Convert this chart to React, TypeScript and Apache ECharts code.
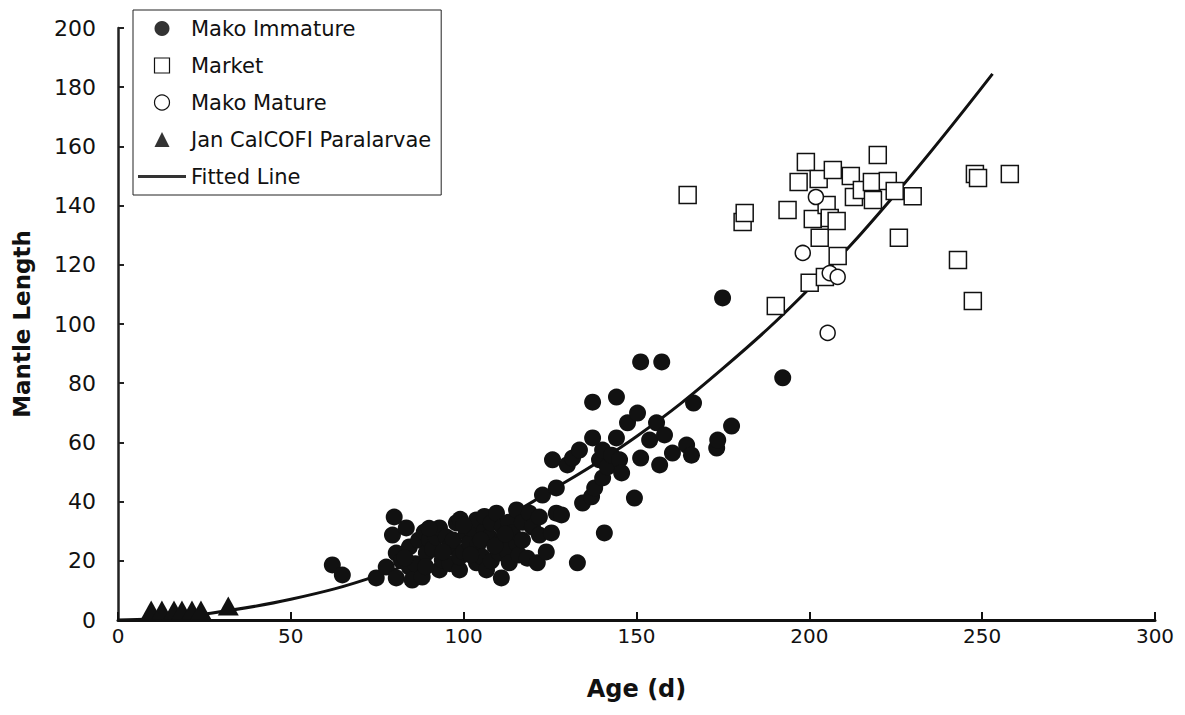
import React, { useEffect, useRef } from "react";
import * as echarts from "echarts";

// Age (d), Mantle Length
const makoImmature: number[][] = [
  [62.0, 18.6], [64.9, 15.2],
  [74.7, 14.2], [77.6, 17.9], [79.9, 34.8], [79.4, 28.7], [80.5, 22.6], [80.5, 14.2],
  [82.0, 20.0], [83.4, 31.1], [84.3, 17.9], [84.3, 24.7], [85.1, 13.5], [86.0, 19.0],
  [87.0, 27.0], [88.0, 14.5], [88.6, 29.7], [89.2, 22.6], [90.1, 27.0], [91.0, 24.0],
  [92.0, 28.0], [93.0, 31.1], [93.0, 16.9], [93.8, 20.3], [95.0, 28.0], [95.9, 24.7],
  [96.0, 19.0], [97.0, 27.0], [97.9, 32.8], [98.8, 16.9], [98.8, 21.3], [99.0, 34.0],
  [100.0, 23.0], [100.8, 29.4], [101.7, 26.0], [102.0, 31.0], [103.7, 33.8], [103.7, 19.3],
  [104.0, 25.0], [105.4, 21.3], [106.0, 30.0], [106.0, 35.0], [106.6, 16.9], [107.4, 28.0],
  [108.0, 32.8], [108.0, 20.0], [109.5, 36.1], [110.3, 22.6], [110.9, 14.2], [111.0, 27.0],
  [111.2, 31.4], [112.4, 23.6], [113.0, 33.0], [113.2, 19.3], [114.1, 29.4], [115.3, 26.0],
  [115.3, 37.2], [116.0, 22.0], [117.0, 33.0], [118.4, 20.9], [119.0, 36.1], [119.9, 31.4],
  [121.3, 19.3], [121.9, 28.7], [121.9, 34.8], [122.8, 42.2], [123.9, 23.0], [125.4, 29.4],
  [125.7, 54.1], [126.8, 44.6], [126.8, 36.1], [128.3, 35.5], [130.0, 52.4], [131.5, 54.7],
  [132.9, 19.3], [133.5, 57.4], [134.4, 39.5], [137.0, 41.6], [137.3, 73.6], [137.3, 61.5],
  [137.9, 44.6], [139.3, 54.1], [140.2, 57.4], [140.2, 48.0], [140.7, 29.4], [141.6, 51.7],
  [142.8, 55.7], [144.2, 75.3], [144.2, 61.5], [145.1, 54.1], [145.7, 49.7], [147.4, 66.6],
  [149.4, 41.2], [150.3, 69.9], [151.2, 87.2], [151.2, 54.7], [153.8, 60.8], [155.8, 66.6],
  [156.7, 52.4], [157.3, 87.2], [158.1, 62.5], [160.4, 56.4], [164.5, 59.1], [165.9, 55.7],
  [166.5, 73.3], [173.2, 58.1], [173.5, 60.8], [174.9, 108.8], [177.5, 65.5], [192.3, 81.8],
  [83.0, 21.0], [89.0, 18.0], [94.0, 23.0], [102.0, 22.0], [105.0, 27.0], [109.0, 25.0],
  [112.0, 29.0], [117.0, 27.0], [100.0, 32.0], [90.0, 31.0],
];

const market: number[][] = [
  [164.8, 143.6], [180.7, 134.5], [181.3, 137.5], [190.3, 106.1], [193.7, 138.5], [196.9, 148.0],
  [199.0, 154.7], [200.1, 113.9], [201.0, 135.5], [202.7, 149.0], [203.0, 129.1], [204.5, 115.9],
  [205.0, 140.2], [205.9, 135.8], [206.8, 152.0], [207.9, 134.8], [208.2, 123.0], [212.0, 150.0],
  [212.9, 142.9], [215.2, 145.3], [218.1, 148.0], [218.4, 141.9], [219.8, 157.1], [222.7, 148.3],
  [224.7, 144.9], [225.9, 129.1], [229.9, 143.2], [243.0, 121.6], [247.3, 107.8], [247.9, 150.7],
  [248.8, 149.3], [258.0, 150.7],
];

const makoMature: number[][] = [
  [198.1, 124.0], [201.9, 142.9], [205.3, 97.0], [205.9, 117.2], [208.2, 115.9],
];

const paralarvae: number[][] = [
  [9.6, 3.4], [12.7, 3.4], [16.2, 3.4], [18.5, 3.4], [21.4, 3.4], [24.0, 3.4], [31.9, 4.7],
];

const fittedLine: number[][] = [
  [0, 0], [10, 0.4], [25, 2], [50, 7], [75, 15], [100, 27], [125, 43.5],
  [150, 62], [175, 85], [200, 112], [225, 144], [253, 184.5],
];

const xTicks = [0, 50, 100, 150, 200, 250, 300];
const yTicks = [0, 20, 40, 60, 80, 100, 120, 140, 160, 180, 200];
const legendNames = ["Mako Immature", "Market", "Mako Mature", "Jan CalCOFI Paralarvae", "Fitted Line"];

const FONT = "DejaVu Sans";
const INK = "#111";

export default function App() {
  const ref = useRef<HTMLDivElement>(null);
  useEffect(() => {
    if (!ref.current) return;
    const chart = echarts.init(ref.current, undefined, { renderer: "svg" });
    chart.setOption({
      animation: false,
      backgroundColor: "#ffffff",
      grid: { left: 118, right: 30, top: 28, bottom: 95, containLabel: false },
      legend: {
        orient: "vertical",
        left: 133,
        top: 10,
        padding: [8, 10, 8, 5],
        itemGap: 16,
        itemWidth: 48,
        itemHeight: 15,
        symbolKeepAspect: true,
        borderColor: "#222",
        borderWidth: 1,
        textStyle: { fontFamily: FONT, fontSize: 21, color: INK },
        data: [
          { name: legendNames[0], icon: "circle", itemStyle: { color: "#333" } },
          {
            name: legendNames[1],
            icon: "path://M0,0L10,0L10,10L0,10Z",
            itemStyle: { color: "#fff", borderColor: INK, borderWidth: 1.2 },
          },
          {
            name: legendNames[2],
            icon: "circle",
            itemStyle: { color: "#fff", borderColor: INK, borderWidth: 1.2 },
          },
          { name: legendNames[3], icon: "path://M5,0L10,10L0,10Z", itemStyle: { color: "#333" } },
          {
            name: legendNames[4],
            icon: "path://M0,0L48,0L48,3L0,3Z",
            itemStyle: { color: "#333", borderWidth: 0 },
          },
        ],
      },
      xAxis: {
        type: "value",
        min: xTicks[0],
        max: xTicks[xTicks.length - 1],
        interval: 50,
        name: "Age (d)",
        nameLocation: "middle",
        nameGap: 57,
        nameTextStyle: { fontFamily: FONT, fontSize: 24, fontWeight: "bold", color: INK },
        axisLine: { lineStyle: { color: INK, width: 3 } },
        axisTick: { inside: true, length: 8, lineStyle: { color: INK, width: 2 } },
        axisLabel: { fontFamily: FONT, fontSize: 20, color: INK, margin: 6 },
        splitLine: { show: false },
      },
      yAxis: {
        type: "value",
        min: yTicks[0],
        max: yTicks[yTicks.length - 1],
        interval: 20,
        name: "Mantle Length",
        nameLocation: "middle",
        nameRotate: 90,
        nameGap: 85,
        nameTextStyle: { fontFamily: FONT, fontSize: 23, fontWeight: "bold", color: INK },
        axisLine: { lineStyle: { color: "#222", width: 2.5 } },
        axisTick: { inside: true, length: 6, lineStyle: { color: "#222", width: 2 } },
        axisLabel: { fontFamily: FONT, fontSize: 22, color: INK, margin: 22 },
        splitLine: { show: false },
      },
      series: [
        {
          name: legendNames[4],
          type: "line",
          data: fittedLine,
          smooth: 0.4,
          symbol: "none",
          itemStyle: { color: INK },
          lineStyle: { color: INK, width: 3 },
          z: 1,
        },
        {
          name: legendNames[0],
          type: "scatter",
          data: makoImmature,
          symbol: "circle",
          symbolSize: 17,
          itemStyle: { color: INK, opacity: 1 },
          z: 2,
        },
        {
          name: legendNames[1],
          type: "scatter",
          data: market,
          symbol: "rect",
          symbolSize: 17,
          itemStyle: { color: "#ffffff", borderColor: INK, borderWidth: 1.5, opacity: 1 },
          z: 3,
        },
        {
          name: legendNames[2],
          type: "scatter",
          data: makoMature,
          symbol: "circle",
          symbolSize: 15,
          itemStyle: { color: "#ffffff", borderColor: INK, borderWidth: 1.5, opacity: 1 },
          z: 4,
        },
        {
          name: legendNames[3],
          type: "scatter",
          data: paralarvae,
          symbol: "path://M5,0L10,10L0,10Z",
          symbolSize: [21, 19],
          itemStyle: { color: INK, opacity: 1 },
          z: 5,
        },
      ],
    });
    return () => chart.dispose();
  }, []);
  return (
    <div style={{ position: "fixed", left: 0, top: 0, width: 1185, height: 715, background: "#fff" }}>
      <div ref={ref} style={{ width: 1185, height: 715 }} />
    </div>
  );
}
